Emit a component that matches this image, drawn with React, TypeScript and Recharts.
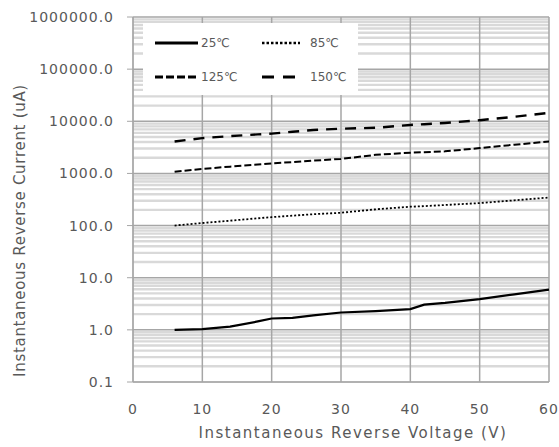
import { LineChart, Line, XAxis, YAxis, ReferenceLine, Legend } from "recharts";

// reverse voltage (V) where the curves were read
const voltage = [6, 10, 14, 18, 20, 23, 26, 30, 35, 40, 42, 45, 50, 55, 60];

// instantaneous reverse current (uA) per junction temperature
const current25 = [1.0, 1.03, 1.15, 1.45, 1.65, 1.7, 1.9, 2.15, 2.28, 2.5, 3.05, 3.3, 3.9, 4.8, 5.9];
const current85 = [100, 112, 124, 138, 145, 155, 165, 176, 205, 230, 236, 248, 270, 305, 345];
const current125 = [1080, 1220, 1350, 1480, 1560, 1650, 1760, 1900, 2270, 2500, 2560, 2650, 3060, 3550, 4100];
const current150 = [4100, 4750, 5200, 5600, 5800, 6300, 6800, 7200, 7500, 8500, 8800, 9300, 10500, 12200, 14500];

const xTicks = [0, 10, 20, 30, 40, 50, 60];
const yTicks = [0.1, 1, 10, 100, 1000, 10000, 100000, 1000000];
const minorSteps = [2, 3, 4, 5, 6, 7, 8, 9];

const series = [
	{ key: "t25", name: "25℃", values: current25, dash: undefined, width: 2.2, legendDash: undefined, legendWidth: 3 },
	{ key: "t85", name: "85℃", values: current85, dash: "2 2", width: 1.8, legendDash: "2.5 2", legendWidth: 2.5 },
	{ key: "t125", name: "125℃", values: current125, dash: "7 3", width: 2, legendDash: "8 3", legendWidth: 3 },
	{ key: "t150", name: "150℃", values: current150, dash: "11 8", width: 2.4, legendDash: "12 9", legendWidth: 3 },
];

const data = voltage.map((v, i) => {
	const row: Record<string, number> = { v };
	series.forEach((s) => (row[s.key] = s.values[i]));
	return row;
});

const minorLines = yTicks.slice(0, -1).flatMap((d) => minorSteps.map((m) => d * m));

const FONT = "'DejaVu Sans', sans-serif";
const TEXT = "#595959";
const MAJOR = "#a6a6a6";
const MINOR = "#d9d9d9";

function LegendBox() {
	const cols = [
		{ left: 12, sample: 43, gap: 3 },
		{ left: 119, sample: 38, gap: 10 },
	];
	return (
		<div style={{ width: 215, height: 72, background: "#fff", position: "relative", fontFamily: FONT, fontSize: 12, color: TEXT }}>
			{series.map((s, i) => {
				const c = cols[i % 2];
				const top = 20 + Math.floor(i / 2) * 34;
				return (
					<div key={s.key} style={{ position: "absolute", left: c.left, top: top - 8, height: 16, display: "flex", alignItems: "center", whiteSpace: "nowrap" }}>
						<svg width={c.sample} height={6}>
							<line x1={0} x2={c.sample} y1={3} y2={3} stroke="#000" strokeWidth={s.legendWidth} strokeDasharray={s.legendDash} />
						</svg>
						<span style={{ marginLeft: c.gap }}>{s.name}</span>
					</div>
				);
			})}
		</div>
	);
}

function YTitle(props: any) {
	const { viewBox } = props;
	const x = 25;
	const y = viewBox.y + viewBox.height / 2 + 31;
	return (
		<text x={x} y={y} transform={`rotate(-90 ${x} ${y})`} textAnchor="middle" fill={TEXT} fontFamily={FONT} fontSize={15} letterSpacing={0.7}>
			Instantaneous Reverse Current (uA)
		</text>
	);
}

function XTitle(props: any) {
	const { viewBox } = props;
	return (
		<text x={viewBox.x + viewBox.width / 2 + 12} y={438} textAnchor="middle" fill={TEXT} fontFamily={FONT} fontSize={15} letterSpacing={1.5}>
			Instantaneous Reverse Voltage (V)
		</text>
	);
}

export default function App() {
	return (
		<div style={{ position: "absolute", left: 0, top: 0 }}>
			<LineChart width={559} height={447} data={data} margin={{ top: 17, right: 10, bottom: 0, left: 0 }}>
				<XAxis
					dataKey="v"
					type="number"
					domain={[0, 60]}
					ticks={xTicks}
					interval={0}
					height={65}
					tickLine={false}
					tickSize={0}
					tickMargin={22}
					axisLine={{ stroke: MAJOR }}
					tick={{ fill: TEXT, fontSize: 14, fontFamily: FONT, letterSpacing: 1 }}
					label={<XTitle />}
				/>
				<YAxis
					type="number"
					scale="log"
					domain={[0.1, 1000000]}
					allowDataOverflow
					ticks={yTicks}
					interval={0}
					width={133}
					tickSize={6}
					tickMargin={13}
					tickFormatter={(v: number) => v.toFixed(1)}
					axisLine={{ stroke: MAJOR }}
					tickLine={{ stroke: MAJOR }}
					tick={{ fill: TEXT, fontSize: 14, fontFamily: FONT, letterSpacing: 1 }}
					label={<YTitle />}
				/>
				{minorLines.map((y) => (
					<ReferenceLine key={"m" + y} y={y} stroke={MINOR} strokeWidth={2.4} />
				))}
				{xTicks.map((x) => (
					<ReferenceLine key={"x" + x} x={x} stroke={MAJOR} strokeWidth={1.5} />
				))}
				{yTicks.map((y) => (
					<ReferenceLine key={"y" + y} y={y} stroke={MAJOR} strokeWidth={1.5} />
				))}
				<Legend
					layout="vertical"
					align="center"
					verticalAlign="middle"
					wrapperStyle={{ left: 143, top: 23, width: 215, height: 72 }}
					content={<LegendBox />}
				/>
				{series.map((s) => (
					<Line
						key={s.key}
						dataKey={s.key}
						name={s.name}
						type="linear"
						stroke="#000"
						strokeWidth={s.width}
						strokeDasharray={s.dash}
						dot={false}
						isAnimationActive={false}
					/>
				))}
			</LineChart>
		</div>
	);
}
